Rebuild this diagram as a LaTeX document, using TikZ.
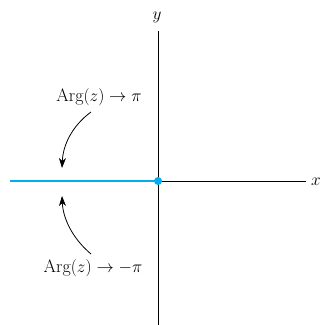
\documentclass[tikz,border=0pt]{standalone}
\usetikzlibrary{arrows.meta}
\definecolor{cyanline}{RGB}{0,174,239}
\begin{document}
\begin{tikzpicture}[x=1pt,y=-1pt,
  axis/.style={line width=0.8pt,black},
  curvearrow/.style={line width=0.8pt,-{Stealth[length=10pt,width=7pt,inset=3pt]}},
  lbl/.style={font=\fontsize{18}{21}\selectfont,inner sep=0pt}]
\useasboundingbox (0,0) rectangle (322,325);
\coordinate (o) at (158,181);
\coordinate (ytop) at (158,31);
\coordinate (ybot) at (158,325);
\coordinate (xl) at (10,181);
\coordinate (xr) at (306,181);
\draw[axis] (ybot) -- (ytop);
\draw[axis] (o) -- (xr);
\draw[line width=2.6pt,cyanline] (xl) -- (o);
\fill[cyanline] (o) circle (4);
\node[lbl,anchor=west] (xlab) at (311,182) {$x$};
\node[lbl] (ylab) at (157,17) {$y$};
\node[lbl] (top) at (99,97) {Arg$(z)\to\pi$};
\node[lbl] (bot) at (93,268) {Arg$(z)\to-\pi$};
\coordinate (a1s) at (91,112);
\coordinate (a1e) at (62,168);
\coordinate (a2s) at (91,254);
\coordinate (a2e) at (62,196);
\draw[curvearrow] (a1s) .. controls (72,126) and (63,145) .. (a1e);
\draw[curvearrow] (a2s) .. controls (72,238) and (63,218) .. (a2e);
\end{tikzpicture}
\end{document}
